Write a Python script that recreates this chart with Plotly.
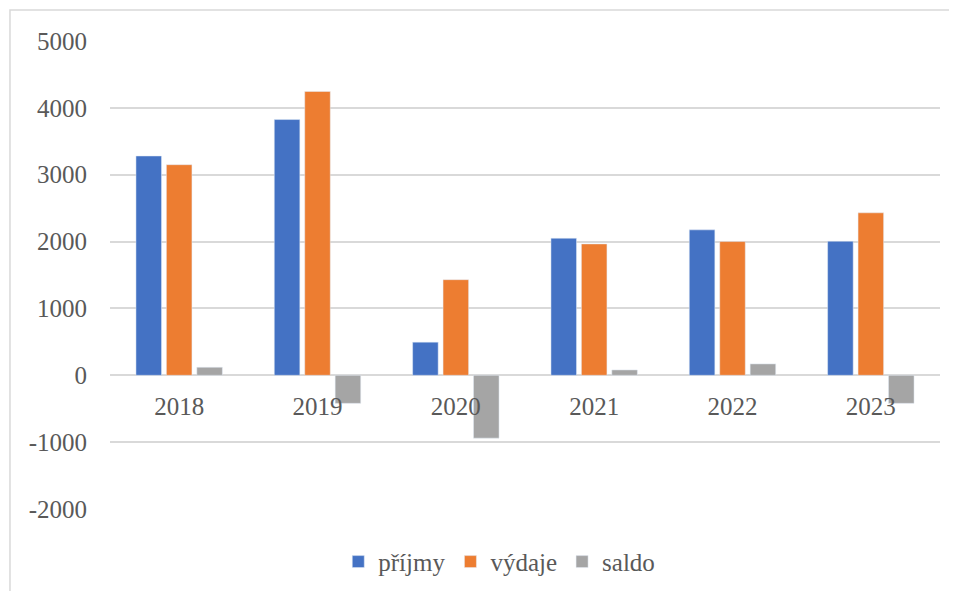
import plotly.graph_objects as go

years = ["2018", "2019", "2020", "2021", "2022", "2023"]
prijmy = [3280, 3825, 495, 2050, 2175, 2005]
vydaje = [3150, 4245, 1430, 1965, 2000, 2430]
saldo = [120, -420, -940, 80, 170, -420]

y_ticks = [-2000, -1000, 0, 1000, 2000, 3000, 4000, 5000]

series = [
    ("příjmy", prijmy, "#4472C4"),
    ("výdaje", vydaje, "#ED7D31"),
    ("saldo", saldo, "#A5A5A5"),
]

fig = go.Figure()
for name, vals, color in series:
    fig.add_trace(go.Bar(x=years, y=vals, name=name, marker=dict(color=color)))

font = dict(family="Liberation Serif", size=25, color="#595959")
y_min, y_max = -2000, 5000

# the page body adds an 8px margin, so the figure is a bit smaller than the window
fig.update_layout(
    width=949,
    height=583,
    margin=dict(l=102, r=17, t=33, b=82, autoexpand=False),
    paper_bgcolor="white",
    plot_bgcolor="white",
    barmode="group",
    bargap=0.34,
    bargroupgap=0.16,
    font=font,
    showlegend=True,
    legend=dict(
        orientation="h",
        x=0.469,
        xanchor="center",
        yref="container",
        y=0.05,
        yanchor="middle",
        font=font,
        itemwidth=30,
        traceorder="normal",
    ),
    xaxis=dict(
        showgrid=False,
        showline=False,
        ticks="",
        anchor="free",
        position=(0 - y_min) / (y_max - y_min),
        ticklabelstandoff=14,
        tickfont=font,
    ),
    yaxis=dict(
        range=[y_min, y_max],
        tickvals=y_ticks,
        ticktext=[str(v) for v in y_ticks],
        showgrid=True,
        gridcolor="#D9D9D9",
        gridwidth=1.5,
        zeroline=True,
        zerolinecolor="#D9D9D9",
        zerolinewidth=1.5,
        showline=False,
        ticks="",
        ticklabelstandoff=22,
        tickfont=font,
    ),
    shapes=[
        dict(
            type="rect",
            xref="paper",
            yref="paper",
            x0=-0.1205,
            x1=1.0133,
            y0=-0.3,
            y1=1.066,
            line=dict(color="#D9D9D9", width=1.5),
            fillcolor="rgba(0,0,0,0)",
            layer="below",
        )
    ],
)

fig.write_html("out.html")
